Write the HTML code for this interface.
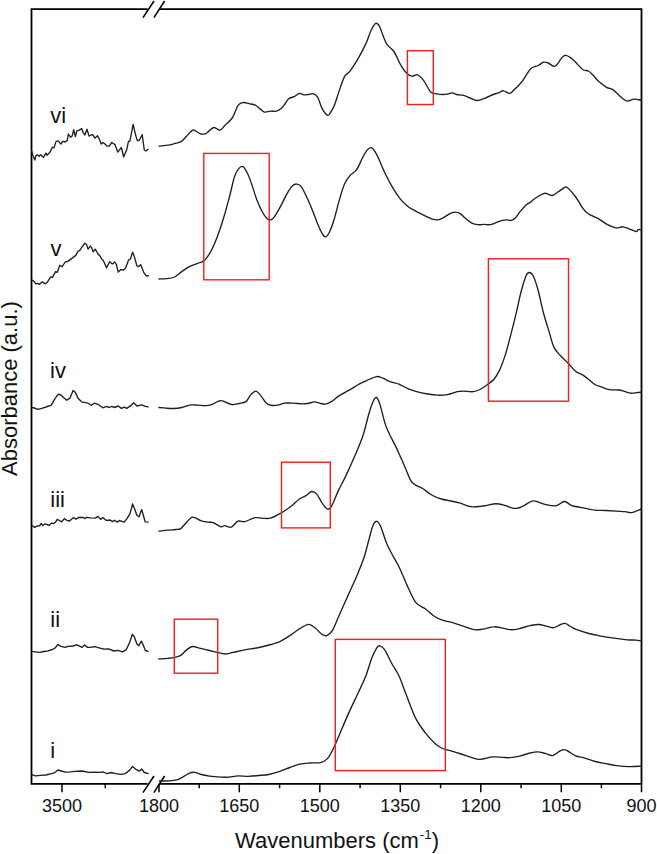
<!DOCTYPE html>
<html><head><meta charset="utf-8"><style>
html,body{margin:0;padding:0;background:#fff;}
body{width:657px;height:854px;overflow:hidden;}
svg{display:block;}
text{font-family:"Liberation Sans",sans-serif;fill:#111;}
.lab{font-size:22px;}
.tk{font-size:18px;text-anchor:middle;}
.ttl{font-size:22px;}
</style></head><body>
<svg width="657" height="854" viewBox="0 0 657 854">
<rect width="657" height="854" fill="#fff"/>

<path d="M147.6,9.2 H31.5 V783.8 H147.6" stroke="#000" stroke-width="1.8" fill="none" stroke-linejoin="miter"/>
<path d="M159.4,9.2 H641.5 V783.8 H159.4" stroke="#000" stroke-width="1.8" fill="none" stroke-linejoin="miter"/>
<path d="M143,17.6 L154,1 M153.9,17.6 L164.6,1" stroke="#000" stroke-width="1.6"/>
<path d="M143,792.6 L154,776 M153.9,792.6 L164.6,776" stroke="#000" stroke-width="1.6"/>
<path d="M62,783.8 V792.2 M159,783.8 V792.2 M239.3,783.8 V792.2 M319.8,783.8 V792.2 M400.3,783.8 V792.2 M480.8,783.8 V792.2 M561.3,783.8 V792.2 M641.5,783.8 V792.2 M105.3,783.8 V788.3 M199.2,783.8 V788.3 M279.6,783.8 V788.3 M360.1,783.8 V788.3 M440.6,783.8 V788.3 M521.1,783.8 V788.3 M601.4,783.8 V788.3 " stroke="#000" stroke-width="1.5"/>

<text x="62" y="812.3" class="tk">3500</text>
<text x="159" y="812.3" class="tk">1800</text>
<text x="239.3" y="812.3" class="tk">1650</text>
<text x="319.8" y="812.3" class="tk">1500</text>
<text x="400.3" y="812.3" class="tk">1350</text>
<text x="480.8" y="812.3" class="tk">1200</text>
<text x="561.3" y="812.3" class="tk">1050</text>
<text x="641.5" y="812.3" class="tk">900</text>
<text x="235" y="848.4" class="ttl">Wavenumbers (cm<tspan font-size="13.5" dx="1" dy="-9.5">-1</tspan><tspan dy="9.5">)</tspan></text>
<text transform="translate(17.3,476) rotate(-90)" class="ttl">Absorbance (a.u.)</text>
<text x="50.2" y="122.8" class="lab">vi</text>
<text x="50.6" y="255.6" class="lab">v</text>
<text x="50.1" y="377.6" class="lab">iv</text>
<text x="50.3" y="507.2" class="lab">iii</text>
<text x="50.3" y="626.6" class="lab">ii</text>
<text x="50.3" y="757.9" class="lab">i</text>
<path d="M31.6,151 L32.7,154.7 L34.8,160 L35.9,155.8 L37.5,154.7 L39.1,156.3 L40.7,154.7 L43.3,157.4 L46,153.1 L47,155.3 L49.7,152.6 L52.4,147.3 L54,147.8 L56.1,141.4 L58.2,140.9 L60.9,144.1 L62.5,141.4 L65.2,142 L67.3,140.4 L68.4,134 L70.5,137.2 L72.1,136.1 L73.7,129.7 L75.3,136.6 L76.9,130.8 L79,130.2 L81.7,128.6 L83.3,132.9 L84.9,135 L87,129.2 L89.1,136.1 L91.3,135 L92.7,134.7 L94.8,138.2 L97.5,135.8 L99.1,138.6 L101.2,144.1 L102.8,142.5 L104.9,143.9 L107,146 L109.2,146.2 L111.8,142.5 L115,144.6 L117.7,152.1 L121.4,147.5 L123.6,156.9 L126.8,149.4 L128.4,141.7 L130,140.9 L133.1,124.4 L135.8,135.6 L137.4,140.9 L139.5,139.8 L142.2,134.7 L144.3,150 L145.9,151 L148.1,149.2" fill="none" stroke="#1e1e1e" stroke-width="1.35" stroke-linejoin="round" stroke-linecap="round"/>
<path d="M159.1,146.2 C160.6,146 165.8,145.5 168.3,145.1 C170.9,144.7 172.2,144.2 174.4,143.6 C176.6,143 179.2,142.8 181.2,141.6 C183.2,140.4 184.6,138.2 186.5,136.3 C188.4,134.4 191.1,131.1 192.6,130.2 C194.1,129.3 194.3,130.4 195.7,131 C197.1,131.6 199.3,133.6 201,134 C202.7,134.4 204.3,134 205.6,133.6 C206.9,133.2 207.2,132.4 208.6,131.4 C210,130.4 212,127.7 213.9,127.5 C215.8,127.3 218.2,130.5 220,130.2 C221.8,129.9 222.6,127.7 224.6,125.7 C226.6,123.7 229.9,121.4 232.2,118 C234.5,114.6 236.4,107.7 238.3,105.1 C240.2,102.5 241.8,102.7 243.6,102.5 C245.4,102.3 247.2,103.3 249.1,103.7 C251,104.1 253.4,104.3 255.2,105.1 C257,105.9 258.3,107.4 259.8,108.6 C261.3,109.8 262.6,111.7 264.4,112.1 C266.2,112.5 268.4,111.3 270.4,111.2 C272.4,111.1 274.7,111.6 276.5,111.2 C278.3,110.8 279.7,109.8 281.1,108.6 C282.5,107.4 283.6,105.7 284.9,104 C286.2,102.3 287.2,99.9 288.7,98.7 C290.2,97.5 292.2,97.6 294,96.7 C295.8,95.8 297.8,93.7 299.4,93.4 C301,93.1 302.4,94.7 303.9,94.9 C305.4,95.1 307,94.7 308.5,94.5 C310,94.3 311.6,93.2 313.1,93.7 C314.6,94.2 316.1,94.7 317.6,97.2 C319.1,99.7 320.6,105.6 322.2,108.6 C323.8,111.6 326.1,114.5 327.5,115.2 C328.9,115.9 329.3,114.2 330.5,112.5 C331.7,110.8 333.2,108.4 334.6,104.8 C336,101.2 337.5,95.8 339.1,91.1 C340.8,86.4 342.7,79.9 344.5,76.6 C346.3,73.3 347.7,74.1 349.8,71.3 C351.9,68.5 354.7,64.5 357.4,59.9 C360.1,55.3 363.5,48.9 365.8,43.9 C368.1,38.9 369.5,33.6 371.1,30.2 C372.8,26.8 374.3,24 375.7,23.4 C377.1,22.8 378.2,24.2 379.5,26.4 C380.8,28.5 382,33.2 383.3,36.3 C384.6,39.3 385.3,42.2 387.1,44.7 C388.9,47.2 391.6,48.1 393.9,51.5 C396.2,54.9 398.6,61.5 400.8,65.2 C403,68.9 405,71.8 406.9,73.6 C408.8,75.4 410.5,76 412.2,76.2 C413.9,76.4 415.3,74.5 416.8,74.7 C418.3,75 420,76.5 421.3,77.7 C422.6,78.9 423,79.6 424.6,82 C426.2,84.4 428.7,89.9 430.7,91.9 C432.7,93.9 434.7,93.4 436.7,93.8 C438.7,94.2 441,94.5 442.8,94.5 C444.6,94.5 445.8,94.4 447.4,94.1 C449,93.8 451.2,92.8 452.7,92.9 C454.2,93 454.7,94.1 456.5,94.5 C458.3,94.9 461.1,94.8 463.4,95.4 C465.7,96 467.9,97.2 470.2,98 C472.5,98.8 474.7,100.4 477.1,100.5 C479.5,100.6 482,99.4 484.7,98.4 C487.4,97.4 490.8,95.4 493.1,94.5 C495.4,93.6 496.7,93.5 498.4,92.9 C500.1,92.3 501.5,90.7 503.4,90.8 C505.3,90.9 508,93.6 509.8,93.4 C511.6,93.2 512.7,91.2 514.4,89.6 C516.1,88 518.6,85.3 520,83.8 C521.4,82.3 521.8,82 522.9,80.4 C524,78.8 525.3,76.4 526.7,74.4 C528.1,72.4 529.4,69.8 531.3,68.3 C533.2,66.8 536.2,66.5 538.2,65.5 C540.2,64.5 541.9,62.6 543.5,62.2 C545.1,61.8 546.3,62.3 548.1,63 C549.9,63.7 552.5,66.3 554.1,66.4 C555.7,66.5 556.6,64.9 557.9,63.4 C559.2,61.9 560.5,59 561.8,57.6 C563.1,56.2 564.1,55.2 565.6,55.3 C567.1,55.3 569,56.5 570.9,57.9 C572.8,59.3 575,61.7 577,63.7 C579,65.7 581.2,68.6 583.1,69.8 C585,71 586.8,70.1 588.4,71 C590,71.9 591.3,73.4 593,75.1 C594.7,76.8 596.2,79.3 598.5,81.3 C600.8,83.3 604.3,85.9 606.6,87.3 C608.9,88.7 610.5,88.2 612.5,89.4 C614.5,90.6 616.5,93.1 618.4,94.7 C620.3,96.3 622.1,98.1 623.7,99.2 C625.3,100.3 626.1,101.1 627.9,101.1 C629.7,101.1 632.1,99.3 634.3,99.2 C636.5,99.1 640.1,100.1 641.3,100.3" fill="none" stroke="#1e1e1e" stroke-width="1.35" stroke-linejoin="round" stroke-linecap="round"/>
<path d="M31.6,280.1 L33.2,280.6 L35.9,283.8 L37.5,283.3 L39.6,284.3 L42.3,281.7 L44.9,283.8 L47,282.7 L50.8,276.9 L52.4,277.4 L55.6,271.6 L57.2,272.4 L59.8,265.2 L62,266.8 L65.2,262 L67.8,261.4 L72.6,257.9 L75.8,255.4 L77.9,251.3 L80.1,250.2 L82.2,246.5 L84.9,243.3 L86.5,244.4 L88.1,249.2 L90.2,246 L91.6,247.6 L93.2,251.8 L95.3,249.2 L98,254 L100.1,256.1 L101.7,259 L103.3,260.4 L106.5,267.8 L109.7,261.7 L112.4,263.9 L114.7,262 L116.4,264.6 L118.2,272.1 L120.9,269.6 L123.6,270 L125.7,267.8 L128.4,260.4 L130.5,258.8 L132.6,252.2 L134.2,256.1 L136.9,265.7 L138.5,266.8 L140.6,264.6 L143.8,272.6 L146.5,276 L148.4,275.6" fill="none" stroke="#1e1e1e" stroke-width="1.35" stroke-linejoin="round" stroke-linecap="round"/>
<path d="M159,279 C160.2,278.9 163.8,279 166.4,278.7 C169,278.4 172.2,278.1 174.6,277 C177,275.9 178.6,273.8 181.1,272.1 C183.6,270.4 186.6,268.1 189.3,266.7 C192,265.2 195,264.4 197.5,263.4 C200,262.4 201.9,262.7 204.1,260.7 C206.3,258.7 208.5,255.6 210.7,251.6 C212.9,247.6 215,242.6 217.2,236.9 C219.4,231.2 221.8,223.9 223.8,217.2 C225.9,210.5 227.7,203.4 229.5,196.7 C231.3,190 232.9,181.6 234.4,177 C235.9,172.4 237.1,170.7 238.5,168.9 C239.9,167.1 241.2,165.9 242.6,166.4 C244,166.9 245.3,169.2 246.8,172 C248.3,174.8 249.8,178.8 251.4,183.4 C253.1,188 254.9,194.7 256.7,199.4 C258.5,204.1 260.5,208.4 262.1,211.5 C263.7,214.6 265,216.4 266.3,217.8 C267.6,219.2 268.7,219.9 269.8,220 C270.9,220.1 272,219.4 273,218.5 C274,217.6 274.4,216.8 275.8,214.6 C277.2,212.4 279.2,208.9 281.1,205.4 C283,201.9 285.3,196.6 287.2,193.3 C289.1,190 290.9,187.2 292.5,185.7 C294.1,184.2 295.6,183.8 297.1,184.1 C298.6,184.3 300,184.9 301.6,187.2 C303.2,189.5 305.2,194 307,197.8 C308.8,201.6 310.5,205.7 312.3,210 C314.1,214.3 316,219.8 317.6,223.7 C319.2,227.6 320.9,231.4 322.2,233.6 C323.5,235.8 324.3,237.1 325.5,236.8 C326.7,236.5 328.1,234.9 329.5,232 C330.9,229.1 332.5,224.7 334.1,219.5 C335.7,214.3 337.4,206.8 339.1,200.9 C340.8,195 342.7,188.3 344.5,184.1 C346.3,179.9 347.8,178.2 349.8,175.8 C351.8,173.4 354.5,172.8 356.6,169.7 C358.8,166.6 360.9,160.8 362.7,157.5 C364.5,154.2 365.9,151.6 367.3,149.9 C368.7,148.2 369.8,147.3 371.1,147.6 C372.4,147.8 373.5,149.2 374.9,151.4 C376.3,153.6 377.9,156.9 379.5,160.5 C381.1,164.1 382.7,168.2 384.8,172.7 C386.9,177.1 389.9,182.9 392.4,187.2 C394.9,191.5 397.5,195.4 400,198.6 C402.5,201.8 405.1,204.2 407.6,206.2 C410.1,208.2 412.1,209.1 415.2,210.8 C418.3,212.5 423.3,214.9 426.1,216.3 C428.9,217.7 430.2,218.5 432.2,219.1 C434.2,219.7 436.3,220.1 438.3,219.8 C440.3,219.5 442.4,218.2 444.4,217.1 C446.4,216 448.5,214.1 450.4,213.3 C452.3,212.5 454.1,212.1 455.8,212.1 C457.5,212.1 458.7,212.5 460.3,213.6 C461.9,214.7 463.8,217 465.7,218.6 C467.6,220.2 469.8,222.2 471.8,223.2 C473.8,224.2 475.8,224.5 477.8,224.7 C479.8,224.9 481.9,224.4 483.9,224.4 C485.9,224.4 488,225 490,224.7 C492,224.4 494.1,223.4 496.1,222.7 C498.1,222 500.4,220.9 502.2,220.4 C504,219.9 505.4,219.8 506.8,219.8 C508.2,219.8 509.2,220.8 510.6,220.6 C512,220.3 513.5,219.8 515.1,218.3 C516.7,216.8 518.4,213.7 520.3,211.4 C522.2,209.2 524.7,206.4 526.4,204.8 C528.1,203.2 529,203.2 530.5,202.1 C532,201 533.6,199.4 535.7,198 C537.8,196.6 541.2,194.7 542.9,193.9 C544.6,193.1 544.5,193 546,193.3 C547.5,193.6 550.1,195.8 552.1,195.5 C554.1,195.2 556.2,193.1 558.3,191.8 C560.3,190.5 562.9,188.4 564.4,187.7 C565.9,187 565.6,186.1 567.5,187.7 C569.4,189.2 573.1,193.6 575.7,197 C578.3,200.4 580.8,205.5 582.9,208.3 C585,211.1 585.5,212.1 588.1,213.8 C590.7,215.5 595,216.8 598.3,218.6 C601.5,220.4 604.7,223.2 607.6,224.7 C610.5,226.2 613.2,227.5 615.8,227.8 C618.4,228.2 620.8,226.6 623,226.8 C625.2,227 627,228 629.2,228.8 C631.4,229.6 634.9,231.4 636.4,231.5 C637.9,231.6 637.5,229.6 638.4,229.4 C639.2,229.2 641,230.2 641.5,230.3" fill="none" stroke="#1e1e1e" stroke-width="1.35" stroke-linejoin="round" stroke-linecap="round"/>
<path d="M31.6,407.4 L34.3,408 L38,409.3 L41.7,408.3 L46,407 L51.3,405.1 L55,398.7 L58.2,394.1 L60.9,395 L64.1,398.1 L66.8,400.3 L70,397.9 L73.1,390.4 L75.3,392.3 L77.9,398.1 L81.7,401.9 L85.4,402.6 L88.1,403.2 L91.3,405.3 L94.3,403.2 L98,404.3 L102.8,407.8 L106.5,406.4 L109.2,407.5 L111.8,406.4 L114.5,407.5 L118.2,406 L121.4,408.4 L124.1,407.1 L126.8,408.4 L131,405.4 L133.7,402.8 L136.9,406 L141.7,404.8 L145.4,406.4 L148.1,406.8" fill="none" stroke="#1e1e1e" stroke-width="1.35" stroke-linejoin="round" stroke-linecap="round"/>
<path d="M158.9,407.5 C160.1,407.6 163.3,407.9 165.8,408.1 C168.3,408.3 171,408.6 173.7,408.5 C176.3,408.4 179,408.1 181.7,407.5 C184.3,406.9 187,405.5 189.6,405.1 C192.2,404.7 194.9,405 197.5,405.1 C200.1,405.2 202.9,405.8 205.4,405.7 C207.9,405.6 209.8,405.1 212.3,404.3 C214.8,403.5 217.9,400.9 220.2,400.6 C222.5,400.3 224.2,401.8 226.2,402.5 C228.2,403.2 230,404.5 232.1,404.7 C234.2,404.9 236.7,404 239,403.5 C241.3,403 244,403.1 246,401.6 C248,400.1 249.2,396.4 250.9,394.6 C252.6,392.9 254.2,390.9 255.9,391.1 C257.6,391.3 259,393.5 260.8,395.6 C262.6,397.7 264.7,401.9 266.7,403.5 C268.7,405.1 270.5,405.3 272.7,405.5 C274.9,405.7 277.6,405.1 279.6,404.7 C281.6,404.3 282.5,403.4 284.8,403.1 C287.1,402.8 290.9,403 293.7,403.1 C296.5,403.2 299.4,403.8 301.7,403.9 C304,404 305.5,403.8 307.6,403.5 C309.7,403.2 312.5,402 314.5,401.9 C316.5,401.8 317.7,402.7 319.5,403.1 C321.3,403.5 323.4,404.4 325.4,404.1 C327.4,403.9 329,403 331.3,401.6 C333.6,400.2 336.3,397.5 339.3,395.6 C342.3,393.7 345.7,392.1 349.1,390.1 C352.6,388.1 357,385.3 360,383.7 C363,382.1 364.2,381.6 367,380.4 C369.8,379.2 374.2,377 376.8,376.6 C379.4,376.2 380.5,377.3 382.8,378.2 C385.1,379.1 388,380.8 390.7,381.8 C393.4,382.8 396,383 398.9,384.1 C401.8,385.2 404.8,387.4 407.8,388.7 C410.8,390 413.4,390.8 416.7,391.7 C420,392.6 424.1,393.4 427.6,394 C431.1,394.6 434.2,395.1 437.5,395.2 C440.8,395.3 444.1,395.2 447.4,394.6 C450.7,394 454.7,392.3 457.3,391.7 C459.9,391.1 460.6,391.1 463.2,391.1 C465.8,391.1 470.3,392 473.1,391.7 C475.9,391.4 477.6,390.7 480,389.5 C482.4,388.3 485.2,386.2 487.5,384.5 C489.8,382.8 492,381.6 494,379.2 C496,376.8 497.8,373.9 499.7,369.9 C501.6,365.8 503.4,360.8 505.3,354.9 C507.2,349 509,341.5 510.9,334.3 C512.8,327.1 514.8,319 516.5,311.8 C518.2,304.6 519.6,297.1 521.2,291.2 C522.8,285.3 524.6,279.3 525.9,276.2 C527.2,273.1 527.9,272.5 529.1,272.5 C530.4,272.5 531.9,273.2 533.4,276.2 C534.9,279.2 536.4,284.1 538.1,290.3 C539.8,296.6 541.8,306.7 543.7,313.7 C545.6,320.7 547.6,326.8 549.3,332.4 C551,338 552.1,343.5 554,347.4 C555.9,351.3 558.1,353.1 560.5,355.8 C562.9,358.5 565.7,360.7 568.2,363.3 C570.8,365.9 573.4,369.6 575.8,371.5 C578.2,373.4 580.5,373.6 582.6,374.9 C584.7,376.1 586.1,377.4 588.1,379 C590.1,380.6 592.5,383.1 594.9,384.5 C597.3,385.9 600.1,386.4 602.5,387.3 C604.9,388.2 606.6,389.2 609.3,389.6 C612,390.1 616.4,389.7 618.9,390 C621.4,390.3 622.5,390.9 624.4,391.4 C626.3,391.9 628.5,393 630.5,393.2 C632.5,393.4 634.9,392.9 636.7,392.7 C638.5,392.5 640.7,392.2 641.5,392.1" fill="none" stroke="#1e1e1e" stroke-width="1.35" stroke-linejoin="round" stroke-linecap="round"/>
<path d="M31.6,525.3 L34.8,527.4 L36.9,526 L39.6,525.8 L41.2,523.5 L42.8,525.6 L44.9,523.9 L47,524.5 L49.2,525.3 L51.3,523.1 L53.4,523.5 L55.6,522.1 L57.2,519.4 L59.3,520.5 L61.7,521.8 L64.3,518.6 L66.8,520.3 L69.4,521 L73.7,517.5 L75.8,519.2 L79,517.3 L83.3,517.5 L84.9,518.6 L86.5,517.3 L90.7,517.8 L95.3,518.1 L98,516.4 L100.7,519.4 L102.8,517.5 L106,520.3 L110.2,520 L112.4,521.6 L114.5,520.3 L117.2,522.1 L119.3,520.5 L122,521.3 L124.1,522.1 L126.8,518.9 L130,513.6 L132.6,504 L134.7,509.3 L136.9,515.2 L139,516.8 L141.7,509.6 L143.3,515.2 L145.2,521.8 L148.1,522.1" fill="none" stroke="#1e1e1e" stroke-width="1.35" stroke-linejoin="round" stroke-linecap="round"/>
<path d="M158.9,531.1 C160.4,530.9 165,530.4 167.8,530.1 C170.6,529.8 173.5,529.8 175.7,529.5 C177.8,529.2 178.9,529.8 180.7,528.6 C182.5,527.4 184.8,524.1 186.6,522.2 C188.4,520.3 190.1,518 191.6,517.3 C193.1,516.6 193.9,517.3 195.5,517.9 C197.1,518.5 199.2,520.1 201.4,520.8 C203.6,521.5 206.4,521.9 208.4,522.2 C210.4,522.5 211.2,521.8 213.3,522.6 C215.4,523.4 218.9,526.3 220.8,526.8 C222.7,527.3 223.1,525.5 224.8,525.6 C226.5,525.7 228.9,527.9 231.1,527.2 C233.3,526.5 235.7,522.1 238,521.2 C240.3,520.3 242.2,522.2 245,521.6 C247.8,521 251.9,518.2 254.9,517.7 C257.9,517.2 260.2,518.2 262.8,518.3 C265.4,518.4 267.9,518.8 270.4,518.2 C272.9,517.6 275.5,516 277.9,514.7 C280.3,513.5 282.5,512.2 284.8,510.7 C287.1,509.2 289.3,507.7 291.8,505.7 C294.3,503.7 297.4,500.4 299.7,498.8 C302,497.2 303.6,497.1 305.6,495.9 C307.6,494.7 309.8,491.8 311.6,491.5 C313.4,491.2 314.9,492.2 316.5,493.9 C318.1,495.6 320,499.6 321.4,501.8 C322.8,504 323.8,505.6 324.8,506.8 C325.8,508 326.6,509.1 327.6,509.2 C328.6,509.3 329.6,508.9 330.6,507.6 C331.6,506.3 332.5,504.3 333.8,501.5 C335.1,498.7 336.2,495.3 338.3,490.9 C340.4,486.5 343.4,481 346.2,475.1 C349,469.2 352.3,461.9 355.1,455.3 C357.9,448.7 360.7,442.4 363,435.5 C365.3,428.6 367.2,419.3 368.9,413.7 C370.5,408.1 371.7,404.6 372.9,401.9 C374.1,399.2 375.1,397.2 376.3,397.5 C377.5,397.8 378.4,399.7 379.8,403.9 C381.2,408.1 383.3,417.8 384.8,422.6 C386.3,427.4 387.1,428.9 388.7,432.5 C390.3,436.1 393.1,441.1 394.7,444.4 C396.3,447.7 396.8,448.8 398.5,452.5 C400.2,456.2 402.8,462 404.8,466.7 C406.9,471.4 409,477.5 410.8,480.6 C412.6,483.7 413.7,483.8 415.7,485.1 C417.7,486.4 420,486.9 422.6,488.5 C425.2,490.1 428.5,493.2 431.6,495 C434.7,496.8 438.4,498.1 441.4,499 C444.4,499.9 446.4,500.1 449.4,500.7 C452.4,501.3 455.7,501.9 459.3,502.9 C462.9,503.9 467.5,506.1 471.1,506.7 C474.7,507.3 478.4,506.5 481,506.3 C483.6,506.1 484.5,505.7 487,505.3 C489.5,504.9 492.9,503.7 495.9,503.7 C498.9,503.7 502.4,504.7 504.8,505.3 C507.2,505.9 508.1,506.8 510,507.3 C511.9,507.8 514.3,508.6 516.4,508.4 C518.5,508.2 520,507.4 522.8,506.2 C525.6,504.9 529.8,501.2 533.4,500.9 C537,500.5 540.4,503.3 544.1,504.1 C547.8,504.9 552.4,506.2 555.8,505.8 C559.2,505.4 561.6,501.5 564.3,501.5 C567,501.5 569.1,504.6 571.8,505.6 C574.5,506.6 576.6,506.6 580.3,507.3 C584,508.1 589.9,509.6 594.2,510.1 C598.5,510.6 602.2,510.3 605.9,510.5 C609.6,510.7 613.3,510.9 616.5,511.1 C619.7,511.3 622.6,511.4 625.1,511.6 C627.6,511.9 628.8,513 631.5,512.6 C634.2,512.2 639.8,509.6 641.5,509" fill="none" stroke="#1e1e1e" stroke-width="1.35" stroke-linejoin="round" stroke-linecap="round"/>
<path d="M31.6,651.4 L35.3,651.9 L39.6,652.4 L43.9,651.5 L48.1,650.9 L52.4,649.5 L55,648.2 L57.9,644.5 L60.9,646.3 L65.2,647.4 L67.8,646.3 L73.7,646 L76.3,644.7 L79,645.8 L82.2,647.4 L84.5,645 L87.5,647.4 L90.2,647.4 L94.5,646.6 L99.1,647.8 L103.9,649.2 L108.6,648.9 L114,651 L117.7,650.3 L122.5,651.8 L126.2,649.6 L129.4,643 L132.4,634.3 L134.2,636.6 L136.9,644.1 L138.8,645.7 L141.4,641.1 L143.3,645.2 L145.4,650.5 L148.1,651.3" fill="none" stroke="#1e1e1e" stroke-width="1.35" stroke-linejoin="round" stroke-linecap="round"/>
<path d="M158.9,659 C160.4,658.9 165.2,658.7 167.8,658.4 C170.4,658.1 172.5,657.9 174.7,657.4 C176.8,656.9 178.7,656.6 180.7,655.4 C182.7,654.1 184.6,651.4 186.6,649.9 C188.6,648.4 190.3,646.8 192.5,646.5 C194.7,646.2 196.7,647.4 199.5,648.1 C202.3,648.8 206.4,649.8 209.4,650.5 C212.4,651.2 214.7,651.8 217.3,652.4 C219.9,653 222.6,654 225.2,654 C227.8,654 229.8,653.1 233.1,652.4 C236.4,651.7 240.7,650.7 245,649.9 C249.3,649.1 254.5,648.4 258.8,647.5 C263.1,646.6 267.2,645.5 270.7,644.5 C274.2,643.5 276.7,643.1 279.9,641.6 C283.1,640.1 286.5,637.8 289.8,635.6 C293.1,633.5 296.6,630.6 299.7,628.7 C302.8,626.8 306,624.5 308.6,624.4 C311.2,624.3 313.3,626.6 315.5,628.3 C317.7,629.9 319.9,633.1 321.8,634.3 C323.7,635.5 325.1,636.2 326.8,635.6 C328.6,635 330.2,634.2 332.3,630.7 C334.4,627.2 336.7,620.8 339.3,614.9 C341.9,609 345.2,601.7 348.2,595.1 C351.2,588.5 354.5,581.6 357.1,575.3 C359.7,569 362,563.4 364,557.5 C366,551.6 367.4,545 368.9,539.7 C370.4,534.4 371.6,528.9 372.9,525.8 C374.2,522.7 375.5,521.1 376.8,521.3 C378.1,521.5 379.2,523.1 380.8,526.8 C382.4,530.5 384.7,538.8 386.7,543.6 C388.7,548.4 390.7,551.7 392.7,555.5 C394.7,559.3 396.5,561.6 398.9,566.5 C401.2,571.4 404,578.6 406.8,584.6 C409.6,590.6 412.6,598.3 415.7,602.4 C418.8,606.5 422.6,606.8 425.6,609 C428.6,611.2 430.7,613.8 433.5,615.7 C436.3,617.6 439.1,619 442.4,620.2 C445.7,621.4 449.5,621.7 453.3,622.8 C457.1,623.9 461.7,625.6 465.2,626.8 C468.7,627.9 471.1,629.3 474.1,629.7 C477.1,630.1 479.7,629.6 483,629.1 C486.3,628.6 490.6,626.9 493.9,626.8 C497.2,626.6 500,627.7 502.8,628.2 C505.6,628.7 508.1,629.6 510.7,629.7 C513.3,629.8 515.2,629.5 518.5,628.8 C521.8,628.1 526.8,626.3 530.2,625.6 C533.6,624.9 535.9,624.4 538.8,624.5 C541.6,624.6 544.8,625.9 547.3,626.4 C549.8,626.9 551.7,627.9 553.7,627.7 C555.7,627.5 557.5,625.8 559.4,625.1 C561.3,624.4 563.3,623.2 565,623.4 C566.7,623.5 567.9,625 569.7,626 C571.6,627 572.9,628.1 576.1,629.4 C579.3,630.6 584.9,632.4 588.8,633.5 C592.7,634.6 595.6,635.1 599.5,635.8 C603.4,636.5 607.7,637.2 612.3,637.9 C616.9,638.6 623.3,639.4 627.2,639.8 C631.1,640.2 633.3,639.9 635.7,640.1 C638.1,640.3 640.5,640.9 641.5,641.1" fill="none" stroke="#1e1e1e" stroke-width="1.35" stroke-linejoin="round" stroke-linecap="round"/>
<path d="M31.6,774.7 L35.3,775.8 L40.7,775.3 L46,775 L51.3,773.7 L55,772.6 L57.9,770 L61.4,771 L65.2,772.1 L70.5,771.8 L74.7,771.3 L82.2,771 L88.6,772.4 L93.9,772.1 L99.6,772.3 L103.3,772 L107,773.6 L111.3,772.5 L115.6,773.6 L120.9,774.3 L125.2,773.6 L129.4,770.4 L132.6,766.4 L135.8,769.3 L139.5,771.1 L141.7,769 L144.3,772.5 L148.1,773.6" fill="none" stroke="#1e1e1e" stroke-width="1.35" stroke-linejoin="round" stroke-linecap="round"/>
<path d="M159.3,781 C161.1,781 166.9,781.1 169.8,780.9 C172.7,780.7 174.6,780.5 176.7,779.9 C178.8,779.3 180.4,778.2 182.6,777.1 C184.8,776 187.6,773.9 189.6,773.1 C191.6,772.3 192.5,772.1 194.5,772.3 C196.5,772.5 198.9,773.9 201.4,774.5 C203.9,775.1 206.1,775.7 209.4,776.1 C212.7,776.5 217.9,776.9 221.2,777.1 C224.5,777.3 226.3,777.3 229.1,777.1 C231.9,776.9 234.7,776 238,775.9 C241.3,775.8 245.4,776.4 248.9,776.3 C252.4,776.2 255.5,775.8 258.8,775.5 C262.1,775.2 265.2,775.2 268.7,774.5 C272.2,773.8 276.3,772.6 279.8,771.4 C283.3,770.2 286.5,768.7 289.8,767.5 C293.1,766.3 296.4,765 299.7,764.2 C303,763.5 306.1,763.3 309.6,763 C313.1,762.7 317.5,763.3 320.5,762.6 C323.5,761.9 325.3,760.9 327.4,758.6 C329.5,756.3 331.3,752.7 333.3,748.7 C335.3,744.8 336.7,741 339.3,734.9 C341.9,728.8 346,719 349.1,712.1 C352.2,705.2 355.2,699.4 358,693.3 C360.8,687.2 363.7,681.4 366,675.5 C368.3,669.6 370.1,662.3 371.9,657.7 C373.7,653.1 375.5,649.8 376.8,647.8 C378.1,645.8 378.5,645.5 379.8,645.8 C381.1,646.1 382.9,646.9 384.8,649.8 C386.8,652.7 389.1,658.7 391.5,663 C393.9,667.3 396.5,670.7 398.9,675.8 C401.3,680.9 403,686.5 405.8,693.6 C408.6,700.7 412.4,711.8 415.7,718.4 C419,725 422.5,729.1 425.6,733.2 C428.7,737.3 431.9,740.6 434.5,743.1 C437.1,745.6 438.9,746.8 441.4,748 C443.9,749.2 446.1,749.4 449.4,750.4 C452.7,751.4 457.6,752.9 461.2,754 C464.8,755.1 468,756.4 471.1,757.3 C474.2,758.2 476.4,759.4 480,759.3 C483.6,759.2 489.1,757.2 492.9,756.9 C496.7,756.6 499.9,757.2 502.8,757.3 C505.7,757.4 507.2,757.9 510,757.7 C512.8,757.5 516.2,757 519.6,756.2 C523,755.4 527.2,753.7 530.2,753 C533.2,752.3 535.2,751.8 537.7,751.9 C540.2,752 542.7,752.8 545.2,753.4 C547.7,754 550.1,756 552.6,755.6 C555.1,755.2 558,751.9 560.1,750.9 C562.2,749.9 563.6,749.4 565.4,749.8 C567.2,750.1 568.9,752 570.7,753 C572.5,754 574,755.2 576.1,756 C578.2,756.8 580.3,756.8 583.5,757.7 C586.7,758.6 591.5,760.5 595.2,761.5 C598.9,762.5 602.4,763 605.9,763.7 C609.4,764.4 612.6,765.1 616.5,765.6 C620.4,766.1 625.3,766.5 629.3,766.6 C633.3,766.7 638.5,766.3 640.4,766.2" fill="none" stroke="#1e1e1e" stroke-width="1.35" stroke-linejoin="round" stroke-linecap="round"/>
<rect x="407.4" y="50.7" width="25.9" height="53.8" fill="none" stroke="#ff1a1a" stroke-width="1.4"/>
<rect x="203.8" y="153.4" width="65.4" height="126.4" fill="none" stroke="#ff1a1a" stroke-width="1.4"/>
<rect x="488.4" y="258.8" width="80.1" height="142.4" fill="none" stroke="#ff1a1a" stroke-width="1.4"/>
<rect x="281.5" y="462.2" width="48.8" height="65.7" fill="none" stroke="#ff1a1a" stroke-width="1.4"/>
<rect x="174.3" y="619.2" width="43.4" height="54" fill="none" stroke="#ff1a1a" stroke-width="1.4"/>
<rect x="335.3" y="639.4" width="110" height="131.2" fill="none" stroke="#ff1a1a" stroke-width="1.4"/>
</svg>
</body></html>
